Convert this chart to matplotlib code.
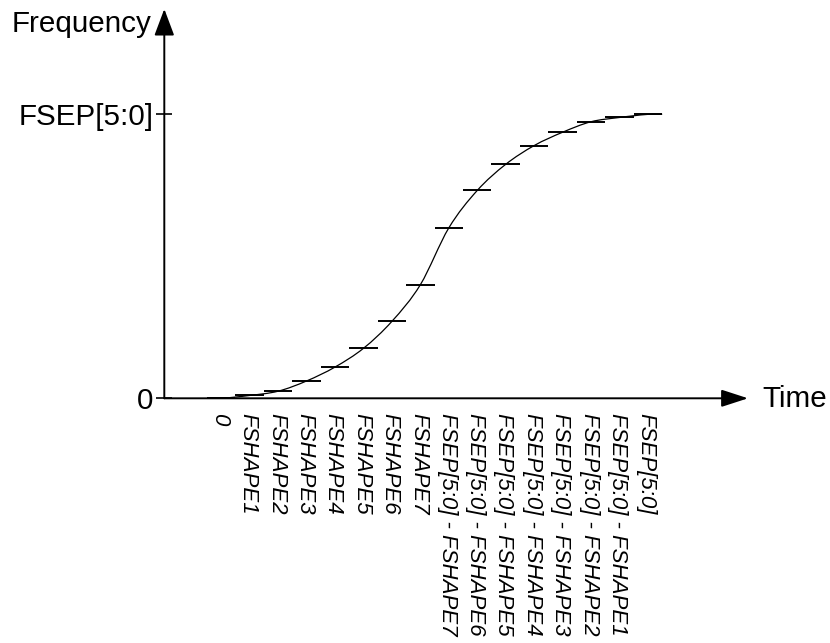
import matplotlib
matplotlib.use("Agg")
import matplotlib.pyplot as plt
from matplotlib.path import Path
from matplotlib.patches import PathPatch
import numpy as np

plt.rcParams['font.family'] = ['Liberation Sans', 'DejaVu Sans']

# Data
step_labels = ["0", "FSHAPE1", "FSHAPE2", "FSHAPE3", "FSHAPE4", "FSHAPE5", "FSHAPE6", "FSHAPE7",
               "FSEP[5:0] - FSHAPE7", "FSEP[5:0] - FSHAPE6", "FSEP[5:0] - FSHAPE5",
               "FSEP[5:0] - FSHAPE4", "FSEP[5:0] - FSHAPE3", "FSEP[5:0] - FSHAPE2",
               "FSEP[5:0] - FSHAPE1", "FSEP[5:0]"]
step_values = [0.0, 0.010, 0.025, 0.061, 0.110, 0.176, 0.271, 0.400,
               0.600, 0.732, 0.824, 0.890, 0.937, 0.974, 0.989, 1.0]
y_tick_values = [0, 1]
y_tick_labels = ["0", "FSEP[5:0]"]

W, H = 830, 643
fig = plt.figure(figsize=(W / 100, H / 100), dpi=100)
x0_px, y0_px, xr_px, yt_px = 164.3, 398.3, 748.0, 9.0
ax = fig.add_axes([x0_px / W, (H - y0_px) / H, (xr_px - x0_px) / W, (y0_px - yt_px) / H])
ax.set_xlim(-2.0, -2.0 + (xr_px - x0_px) / 28.45)
ax.set_ylim(0, 1.371)
for s in ax.spines.values():
    s.set_visible(False)

# Axis arrows
ax.annotate('', xy=(1, 0), xytext=(0, 0), xycoords='axes fraction', textcoords='axes fraction',
            arrowprops=dict(arrowstyle='-|>,head_length=0.4,head_width=0.13', mutation_scale=41,
                            lw=1.4, color='black', shrinkA=0, shrinkB=0), annotation_clip=False)
ax.annotate('', xy=(0, 1), xytext=(0, 0), xycoords='axes fraction', textcoords='axes fraction',
            arrowprops=dict(arrowstyle='-|>,head_length=0.4,head_width=0.15', mutation_scale=41,
                            lw=1.4, color='black', shrinkA=0, shrinkB=0), annotation_clip=False)

x = np.arange(len(step_values))
vals = np.array(step_values, dtype=float)

# Step segments
ax.hlines(vals, x - 0.5, x + 0.5, colors='black', lw=1.4, zorder=3)

# Smooth curve through step centres (Catmull-Rom as Bezier path)
px = np.concatenate([[x[0] - 0.5], x, [x[-1] + 0.5]])
py = np.concatenate([[vals[0]], vals, [vals[-1]]])
pts = np.column_stack([px, py])
n = len(pts)
tang = np.zeros_like(pts)
for i in range(1, n - 1):
    tang[i] = (pts[i + 1] - pts[i - 1]) / (pts[i + 1, 0] - pts[i - 1, 0])
verts = [tuple(pts[0])]
codes = [Path.MOVETO]
for i in range(n - 1):
    dx = pts[i + 1, 0] - pts[i, 0]
    c1 = pts[i] + np.array([dx / 3.0, tang[i, 1] * dx / 3.0])
    c2 = pts[i + 1] - np.array([dx / 3.0, tang[i + 1, 1] * dx / 3.0])
    verts += [tuple(c1), tuple(c2), tuple(pts[i + 1])]
    codes += [Path.CURVE4] * 3
ax.add_patch(PathPatch(Path(verts, codes), fill=False, lw=0.9, edgecolor='black', zorder=2))

# Ticks
ax.set_xticks(x - 0.06)
ax.set_xticklabels(step_labels, rotation=270, fontstyle='italic', fontsize=16)
ax.tick_params(axis='x', length=0, pad=10.5)
ax.set_yticks(y_tick_values)
ax.set_yticklabels(y_tick_labels, fontsize=21.3)
ax.tick_params(axis='y', direction='inout', length=12.2, width=1.2, pad=1.8)

# Axis titles
fig.text(152 / W, (H - 31.7) / H, 'Frequency', ha='right', va='baseline', fontsize=21.3)
fig.text(762 / W, (H - 406.7) / H, 'Time', ha='left', va='baseline', fontsize=21.3)

fig.savefig('out.png', dpi=100)
